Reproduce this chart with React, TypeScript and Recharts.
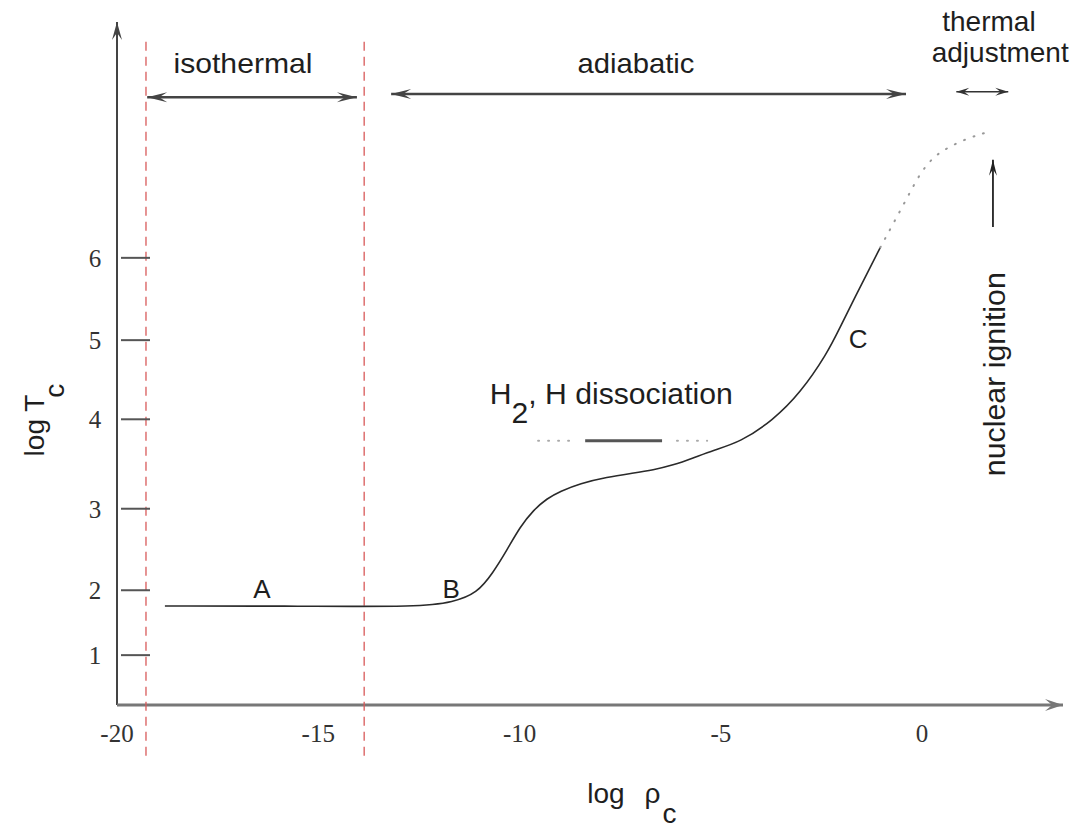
import React from 'react';
import { LineChart, Line, XAxis, YAxis, ReferenceLine, ReferenceDot } from 'recharts';

// ---------- data ----------
const xTicks = [-20, -15, -10, -5, 0];
const xTickLabels = ['-20', '-15', '-10', '-5', '0'];
const yTickValues = [1.0, 1.82, 2.85, 3.98, 4.98, 6.02];
const yTickLabels = ['1', '2', '3', '4', '5', '6'];

// solid part of the collapse track (log rho_c, log T_c)
const trackLogRho = [-18.81, -15.45, -12.47, -11.65, -11.06, -10.66, -10.31, -9.99, -9.66, -9.32, -8.99, -8.5, -7.83, -7.18, -6.68, -6.19, -5.69, -5.19, -4.52, -3.7, -3.03, -2.36, -2.04, -1.71, -1.37, -1.04];
const trackLogT = [1.62, 1.62, 1.61, 1.67, 1.78, 2.04, 2.33, 2.62, 2.83, 2.98, 3.07, 3.17, 3.25, 3.3, 3.34, 3.4, 3.49, 3.59, 3.69, 3.97, 4.31, 4.81, 5.14, 5.48, 5.82, 6.15];
// dotted continuation (thermal adjustment)
const dottedLogRho = [-1.04, -0.72, -0.37, -0.05, 0.27, 0.62, 1.12, 1.57];
const dottedLogT = [6.15, 6.45, 6.78, 7.09, 7.29, 7.41, 7.53, 7.6];

// phase boundaries (red dashed)
const phaseBoundaries = [-19.28, -13.86];
const boundaryYRange = [8.75, -0.33];

// annotation arrows: [x1, x2, y] horizontal double arrows
const isothermalArrow = [-19.25, -14.04, 8.05];
const adiabaticArrow = [-13.19, -0.4, 8.09];
const thermalArrow = [0.85, 2.14, 8.12];
// nuclear ignition arrow [x, yFrom, yTo]
const ignitionArrow = [1.76, 6.41, 7.26];
// H2 dissociation marker
const dissocY = 3.71;
const dissocDotted1 = [-9.54, -8.75];
const dissocSolid = [-8.37, -6.46];
const dissocDotted2 = [-6.09, -5.34];

const X_DOMAIN: [number, number] = [-20, 3.5];
const Y_DOMAIN: [number, number] = [0.37, 9.0];

const trackData = trackLogRho.map((x, i) => ({ x, y: trackLogT[i] }));
const dottedData = dottedLogRho.map((x, i) => ({ x, y: dottedLogT[i] }));

// ---------- styles ----------
const SANS = '"Liberation Sans", Arial, sans-serif';
const SERIF = '"Liberation Serif", "Times New Roman", serif';
const TEXT = '#1e1e1e';

function arrowHead(x: number, y: number, angle: number, color: string, len: number, half: number) {
  const c = Math.cos(angle), s = Math.sin(angle);
  const pt = (a: number, b: number) => `${x + a * c - b * s},${y + a * s + b * c}`;
  return <path d={`M${pt(0, 0)} L${pt(-len, -half)} L${pt(-len * 0.6, 0)} L${pt(-len, half)} Z`} fill={color} />;
}

const makeArrow = (o: { start?: boolean; end?: boolean; color: string; width: number; len?: number; half?: number }) =>
  (p: any) => {
    const { x1, y1, x2, y2 } = p;
    const ang = Math.atan2(y2 - y1, x2 - x1);
    const len = o.len ?? 14;
    const half = o.half ?? 5;
    return (
      <g>
        <line x1={x1} y1={y1} x2={x2} y2={y2} stroke={o.color} strokeWidth={o.width} />
        {o.end ? arrowHead(x2, y2, ang, o.color, len, half) : null}
        {o.start ? arrowHead(x1, y1, ang + Math.PI, o.color, len, half) : null}
      </g>
    );
  };

const label = (content: React.ReactNode, o: { size?: number; anchor?: string; rotate?: boolean; family?: string; len?: number }) =>
  (p: any) => (
    <text
      x={p.cx}
      y={p.cy}
      fill={TEXT}
      fontFamily={o.family ?? SANS}
      fontSize={o.size ?? 28}
      textAnchor={(o.anchor as any) ?? 'middle'}
      transform={o.rotate ? `rotate(-90 ${p.cx} ${p.cy})` : undefined}
      textLength={o.len}
      lengthAdjust={o.len ? 'spacingAndGlyphs' : undefined}
    >
      {content}
    </text>
  );

const XTick = (p: any) => {
  const i = xTicks.indexOf(p.payload.value);
  return (
    <text x={p.x} y={p.y + 37} textAnchor="middle" fontFamily={SERIF} fontSize={25} fill="#333">
      {i >= 0 ? xTickLabels[i] : ''}
    </text>
  );
};

const YTick = (p: any) => {
  const i = yTickValues.indexOf(p.payload.value);
  return (
    <g>
      <line x1={p.x + 4} x2={p.x + 33} y1={p.y} y2={p.y} stroke="#555" strokeWidth={2} />
      <text x={p.x - 22} y={p.y + 9} textAnchor="middle" fontFamily={SERIF} fontSize={25} fill="#333">
        {i >= 0 ? yTickLabels[i] : ''}
      </text>
    </g>
  );
};

export default function App() {
  return (
    <div style={{ position: 'absolute', left: 0, top: 0, width: 1090, height: 828, background: '#fff' }}>
      <style>{'body{margin:0}'}</style>
      <LineChart width={1090} height={828} margin={{ top: 22, right: 27, bottom: 83, left: 57 }}>
        <XAxis type="number" dataKey="x" domain={X_DOMAIN} ticks={xTicks} interval={0} allowDataOverflow axisLine={false} tickLine={false} tickSize={0} tickMargin={0} height={40} tick={(p: any) => <XTick {...p} />} />
        <YAxis type="number" dataKey="y" domain={Y_DOMAIN} ticks={yTickValues} interval={0} allowDataOverflow axisLine={false} tickLine={false} tickSize={0} tickMargin={0} width={60} tick={(p: any) => <YTick {...p} />} />

        {/* axes with arrows */}
        <ReferenceLine ifOverflow="visible" segment={[{ x: X_DOMAIN[0], y: Y_DOMAIN[0] }, { x: X_DOMAIN[0], y: Y_DOMAIN[1] }]} shape={makeArrow({ end: true, color: '#444', width: 2, len: 18, half: 5 })} />
        <ReferenceLine ifOverflow="visible" segment={[{ x: X_DOMAIN[0], y: Y_DOMAIN[0] }, { x: X_DOMAIN[1], y: Y_DOMAIN[0] }]} shape={makeArrow({ end: true, color: '#777', width: 3, len: 18, half: 6 })} />

        {/* phase boundaries */}
        {phaseBoundaries.map((bx) => (
          <ReferenceLine key={bx} ifOverflow="visible" segment={[{ x: bx, y: boundaryYRange[0] }, { x: bx, y: boundaryYRange[1] }]} stroke="#d85a5a" strokeWidth={1.3} strokeDasharray="9 6" />
        ))}

        {/* region arrows */}
        <ReferenceLine ifOverflow="visible" segment={[{ x: isothermalArrow[0], y: isothermalArrow[2] }, { x: isothermalArrow[1], y: isothermalArrow[2] }]} shape={makeArrow({ start: true, end: true, color: '#444', width: 2.5, len: 20, half: 5 })} />
        <ReferenceLine ifOverflow="visible" segment={[{ x: adiabaticArrow[0], y: adiabaticArrow[2] }, { x: adiabaticArrow[1], y: adiabaticArrow[2] }]} shape={makeArrow({ start: true, end: true, color: '#444', width: 2.5, len: 20, half: 5 })} />
        <ReferenceLine ifOverflow="visible" segment={[{ x: thermalArrow[0], y: thermalArrow[2] }, { x: thermalArrow[1], y: thermalArrow[2] }]} shape={makeArrow({ start: true, end: true, color: '#333', width: 1.5, len: 13, half: 4 })} />
        <ReferenceLine ifOverflow="visible" segment={[{ x: ignitionArrow[0], y: ignitionArrow[1] }, { x: ignitionArrow[0], y: ignitionArrow[2] }]} shape={makeArrow({ end: true, color: '#222', width: 1.8, len: 16, half: 4 })} />

        {/* H2 dissociation marker */}
        <ReferenceLine ifOverflow="visible" segment={[{ x: dissocDotted1[0], y: dissocY }, { x: dissocDotted1[1], y: dissocY }]} stroke="#aaa" strokeWidth={2} strokeDasharray="1 9" strokeLinecap="round" />
        <ReferenceLine ifOverflow="visible" segment={[{ x: dissocSolid[0], y: dissocY }, { x: dissocSolid[1], y: dissocY }]} stroke="#555" strokeWidth={3} />
        <ReferenceLine ifOverflow="visible" segment={[{ x: dissocDotted2[0], y: dissocY }, { x: dissocDotted2[1], y: dissocY }]} stroke="#aaa" strokeWidth={2} strokeDasharray="1 9" strokeLinecap="round" />

        {/* track */}
        <Line data={trackData} dataKey="y" type="basis" stroke="#2a2a2a" strokeWidth={1.6} dot={false} isAnimationActive={false} />
        <Line data={dottedData} dataKey="y" type="basis" stroke="#999" strokeWidth={2} strokeDasharray="1 9" strokeLinecap="round" dot={false} isAnimationActive={false} />

        {/* text labels */}
        <ReferenceDot ifOverflow="visible" x={-16.87} y={8.36} r={1} shape={label('isothermal', { len: 139 })} />
        <ReferenceDot ifOverflow="visible" x={-7.11} y={8.36} r={1} shape={label('adiabatic', { len: 117 })} />
        <ReferenceDot ifOverflow="visible" x={1.66} y={8.89} r={1} shape={label('thermal', {})} />
        <ReferenceDot ifOverflow="visible" x={1.94} y={8.49} r={1} shape={label('adjustment', {})} />
        <ReferenceDot ifOverflow="visible" x={-16.4} y={1.72} r={1} shape={label('A', { size: 26 })} />
        <ReferenceDot ifOverflow="visible" x={-11.7} y={1.72} r={1} shape={label('B', { size: 26 })} />
        <ReferenceDot ifOverflow="visible" x={-1.59} y={4.88} r={1} shape={label('C', { size: 26 })} />
        <ReferenceDot ifOverflow="visible" x={-10.74} y={4.17} r={1} shape={label(<><tspan>H</tspan><tspan dy={19}>2</tspan><tspan dy={-19}>, H dissociation</tspan></>, { anchor: 'start', size: 29, len: 243 })} />
        <ReferenceDot ifOverflow="visible" x={2.06} y={4.55} r={1} shape={label('nuclear ignition', { rotate: true, size: 29, len: 204 })} />
        <ReferenceDot ifOverflow="visible" x={-21.81} y={3.97} r={1} shape={label(<><tspan>log T</tspan><tspan dy={20}>c</tspan></>, { rotate: true })} />
        <ReferenceDot ifOverflow="visible" x={-8.32} y={-0.87} r={1} shape={label(<><tspan>log</tspan><tspan dx={20}>{'\u03C1'}</tspan><tspan dx={2} dy={20}>c</tspan></>, { anchor: 'start' })} />
      </LineChart>
    </div>
  );
}
